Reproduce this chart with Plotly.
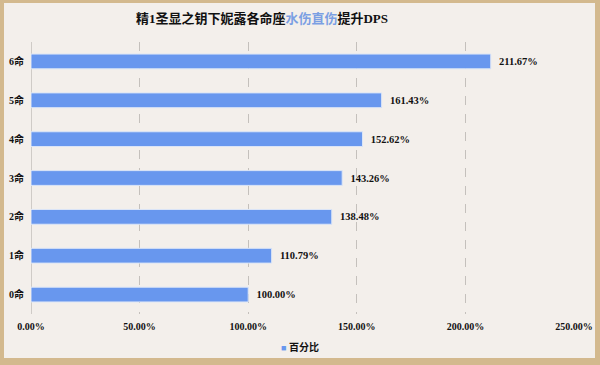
import plotly.graph_objects as go

categories = ["0命", "1命", "2命", "3命", "4命", "5命", "6命"]
values = [100.00, 110.79, 138.48, 143.26, 152.62, 161.43, 211.67]
tick_vals = [0, 50, 100, 150, 200, 250]
tick_text = ["0.00%", "50.00%", "100.00%", "150.00%", "200.00%", "250.00%"]
series_name = "百分比"

W, H = 600, 365
L, R, T, B = 31, 26, 42, 51
pw, ph = W - L - R, H - T - B

def px(x):
    return (x - L) / pw

def py(y):
    return (H - B - y) / ph

serif = "Liberation Serif, Noto Sans CJK SC, serif"
bar_color = "#6897ee"

fig = go.Figure()
fig.add_trace(go.Bar(
    y=categories, x=values, orientation="h", name=series_name,
    marker=dict(color=bar_color, line=dict(color="#dbe5f7", width=1)),
    text=[f"  {v:.2f}%" for v in values], textposition="outside",
    textfont=dict(family=serif, size=10.5, color="#111111", weight="bold"),
    cliponaxis=False, showlegend=False,
))

fig.add_shape(type="rect", xref="paper", yref="paper", layer="below",
              x0=px(4), x1=px(595), y0=py(358), y1=py(3),
              fillcolor="#f3efeb", line=dict(width=0))

# legend drawn as text: coloured square + series name
fig.add_annotation(
    xref="paper", yref="paper", x=px(300), y=py(347), xanchor="center", yanchor="middle",
    text=f"<span style='color:{bar_color};font-size:9px'>■</span> <b>{series_name}</b>",
    showarrow=False, font=dict(family=serif, size=10, color="#111111"))

fig.update_layout(
    width=W, height=H,
    margin=dict(l=L, r=R, t=T, b=B, pad=0, autoexpand=False),
    paper_bgcolor="#d3b98e", plot_bgcolor="rgba(0,0,0,0)",
    bargap=0.62, showlegend=False,
    title=dict(
        text="<b>精1圣显之钥下妮露各命座<span style='color:#7b9fe3'>水伤直伤</span>提升DPS</b>",
        xref="container", x=262 / W, xanchor="center", y=1 - 18 / H, yanchor="middle",
        font=dict(family=serif, size=13, color="#111111")),
    xaxis=dict(range=[0, 250], tickvals=tick_vals, ticktext=tick_text,
               automargin=False,
               showgrid=True, gridcolor="#c4c0bc", griddash="dash", gridwidth=1,
               zeroline=True, zerolinecolor="#cfcbc7", zerolinewidth=1,
               showline=False, ticks="", ticklabelstandoff=5,
               tickfont=dict(family=serif, size=10, color="#111111", weight="bold")),
    yaxis=dict(showgrid=False, zeroline=False, showline=False, ticks="",
               automargin=False, ticklabelstandoff=6,
               tickfont=dict(family=serif, size=10, color="#111111", weight="bold")),
)

fig.write_html("out.html", config={"displayModeBar": False},
               post_script="document.body.style.margin='0';document.body.style.padding='0';")
